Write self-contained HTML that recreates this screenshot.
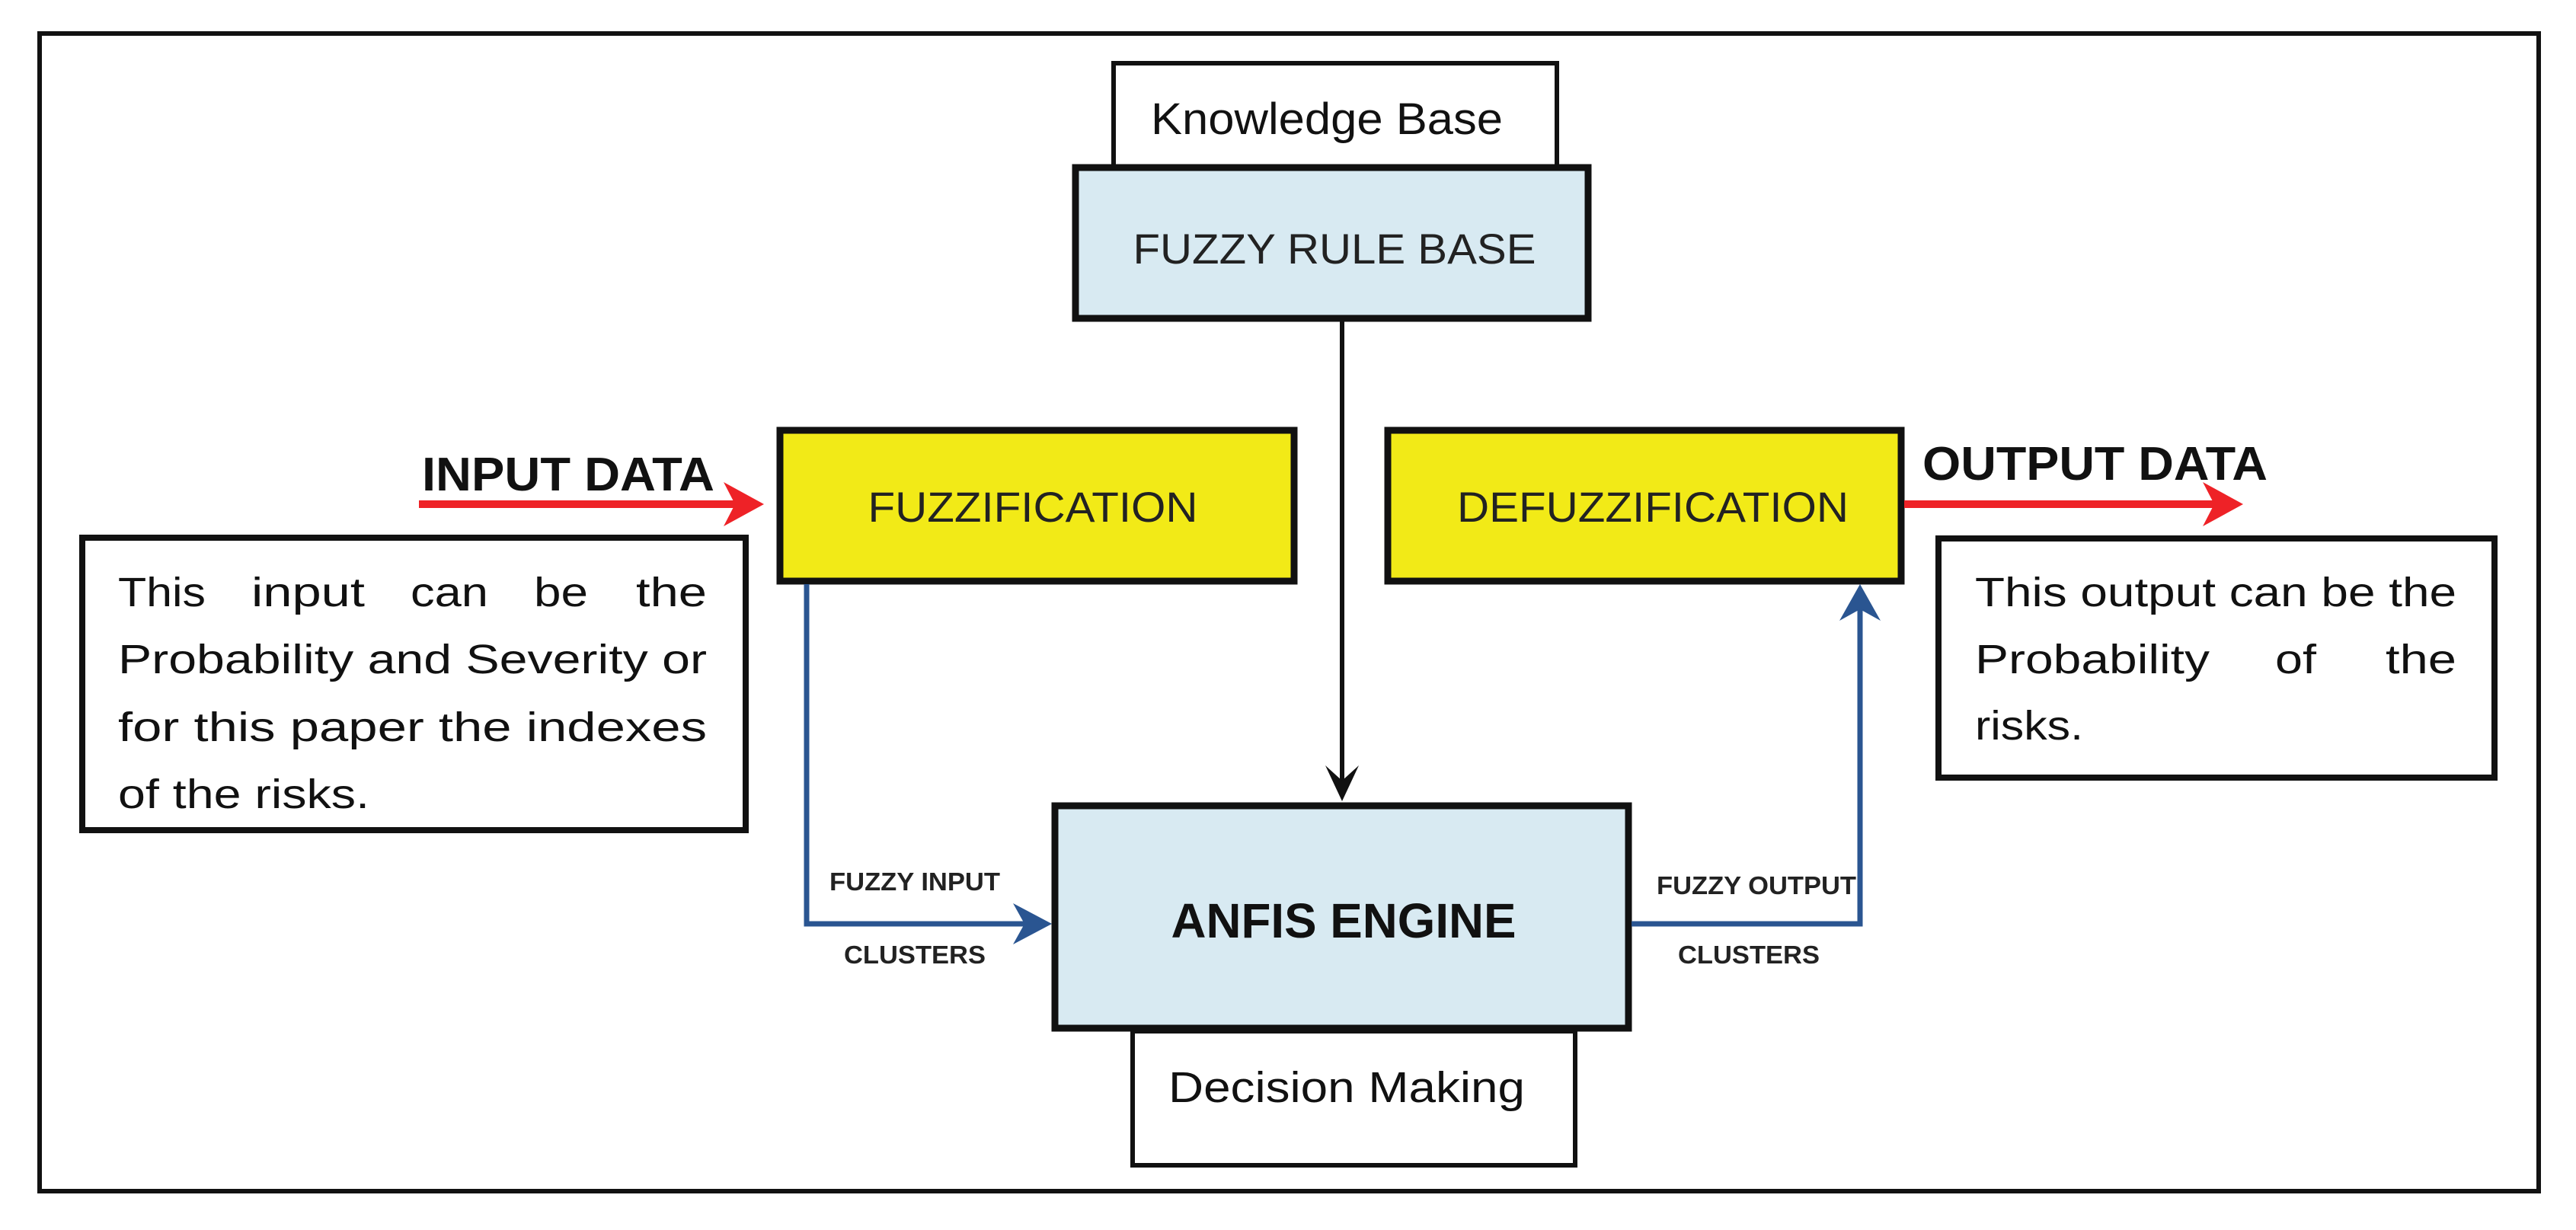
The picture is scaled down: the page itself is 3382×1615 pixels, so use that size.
<!DOCTYPE html>
<html><head><meta charset="utf-8"><style>html,body{margin:0;padding:0;background:#fff}svg{display:block}</style></head>
<body>
<svg width="3382" height="1615" viewBox="0 0 3382 1615" xmlns="http://www.w3.org/2000/svg">
<rect x="0" y="0" width="3382" height="1615" fill="#fff"/>
<rect x="52" y="44" width="3281" height="1520" fill="none" stroke="#111" stroke-width="6"/>

<rect x="1462" y="83" width="582" height="136" fill="#fff" stroke="#111" stroke-width="6"/>
<text x="1742" y="176" font-family="Liberation Sans, sans-serif" font-size="58" text-anchor="middle" textLength="462" lengthAdjust="spacingAndGlyphs" fill="#111">Knowledge Base</text>

<rect x="1412" y="220" width="673" height="198" fill="#d8eaf2" stroke="#111" stroke-width="9"/>
<text x="1752" y="346" font-family="Liberation Sans, sans-serif" font-size="56" text-anchor="middle" textLength="529" lengthAdjust="spacingAndGlyphs" fill="#222">FUZZY RULE BASE</text>

<line x1="1762" y1="422" x2="1762" y2="1040" stroke="#111" stroke-width="6"/>
<polygon points="1740,1005 1762,1052 1784,1005 1762,1025" fill="#111"/>

<rect x="1024" y="565" width="675" height="198" fill="#f2ea17" stroke="#111" stroke-width="9"/>
<text x="1356" y="685" font-family="Liberation Sans, sans-serif" font-size="56" text-anchor="middle" textLength="433" lengthAdjust="spacingAndGlyphs" fill="#222">FUZZIFICATION</text>

<rect x="1822" y="565" width="674" height="198" fill="#f2ea17" stroke="#111" stroke-width="9"/>
<text x="2170" y="685" font-family="Liberation Sans, sans-serif" font-size="56" text-anchor="middle" textLength="514" lengthAdjust="spacingAndGlyphs" fill="#222">DEFUZZIFICATION</text>

<text x="554" y="644" font-family="Liberation Sans, sans-serif" font-size="62" font-weight="bold" textLength="384" lengthAdjust="spacingAndGlyphs" fill="#111">INPUT DATA</text>
<line x1="550" y1="662" x2="985" y2="662" stroke="#ee2227" stroke-width="10"/>
<polygon points="950,633 1003,662 950,691 965,662" fill="#ee2227"/>

<text x="2524" y="630" font-family="Liberation Sans, sans-serif" font-size="62" font-weight="bold" textLength="453" lengthAdjust="spacingAndGlyphs" fill="#111">OUTPUT DATA</text>
<line x1="2500" y1="662" x2="2925" y2="662" stroke="#ee2227" stroke-width="10"/>
<polygon points="2892,633 2945,662 2892,691 2907,662" fill="#ee2227"/>

<rect x="108" y="706" width="871" height="384" fill="#fff" stroke="#111" stroke-width="8"/>
<g font-family="Liberation Sans, sans-serif" font-size="54" fill="#111" lengthAdjust="spacingAndGlyphs">
<text x="155" y="796" textLength="115" lengthAdjust="spacingAndGlyphs">This</text>
<text x="330" y="796" textLength="149" lengthAdjust="spacingAndGlyphs">input</text>
<text x="539" y="796" textLength="102" lengthAdjust="spacingAndGlyphs">can</text>
<text x="701" y="796" textLength="71" lengthAdjust="spacingAndGlyphs">be</text>
<text x="835" y="796" textLength="93" lengthAdjust="spacingAndGlyphs">the</text>
<text x="155" y="884" textLength="773" lengthAdjust="spacingAndGlyphs">Probability and Severity or</text>
<text x="155" y="973" textLength="773" lengthAdjust="spacingAndGlyphs">for this paper the indexes</text>
<text x="155" y="1061" textLength="330" lengthAdjust="spacingAndGlyphs">of the risks.</text>
</g>

<rect x="2545" y="707" width="730" height="314" fill="#fff" stroke="#111" stroke-width="8"/>
<g font-family="Liberation Sans, sans-serif" font-size="54" fill="#111">
<text x="2593" y="796" textLength="632" lengthAdjust="spacingAndGlyphs">This output can be the</text>
<text x="2593" y="884" textLength="308" lengthAdjust="spacingAndGlyphs">Probability</text>
<text x="2987" y="884" textLength="54" lengthAdjust="spacingAndGlyphs">of</text>
<text x="3132" y="884" textLength="93" lengthAdjust="spacingAndGlyphs">the</text>
<text x="2593" y="971" textLength="142" lengthAdjust="spacingAndGlyphs">risks.</text>
</g>

<rect x="1385" y="1058" width="753" height="292" fill="#d8eaf2" stroke="#111" stroke-width="9"/>
<text x="1764" y="1231" font-family="Liberation Sans, sans-serif" font-size="64" font-weight="bold" text-anchor="middle" textLength="453" lengthAdjust="spacingAndGlyphs" fill="#111">ANFIS ENGINE</text>

<rect x="1487" y="1354" width="581" height="176" fill="#fff" stroke="#111" stroke-width="6"/>
<text x="1768" y="1447" font-family="Liberation Sans, sans-serif" font-size="57" text-anchor="middle" textLength="468" lengthAdjust="spacingAndGlyphs" fill="#111">Decision Making</text>

<polyline points="1059,767 1059,1213 1365,1213" fill="none" stroke="#2a5591" stroke-width="7"/>
<polygon points="1330,1186 1381,1213 1330,1240 1345,1213" fill="#2a5591"/>
<polyline points="2142,1213 2442,1213 2442,785" fill="none" stroke="#2a5591" stroke-width="7"/>
<polygon points="2415,815 2442,767 2469,815 2442,800" fill="#2a5591"/>

<g font-family="Liberation Sans, sans-serif" font-size="33" font-weight="bold" fill="#222" text-anchor="middle">
<text x="1201" y="1169" textLength="224" lengthAdjust="spacingAndGlyphs">FUZZY INPUT</text>
<text x="1201" y="1265" textLength="186" lengthAdjust="spacingAndGlyphs">CLUSTERS</text>
<text x="2306" y="1174" textLength="262" lengthAdjust="spacingAndGlyphs">FUZZY OUTPUT</text>
<text x="2296" y="1265" textLength="186" lengthAdjust="spacingAndGlyphs">CLUSTERS</text>
</g>
</svg>
</body></html>
